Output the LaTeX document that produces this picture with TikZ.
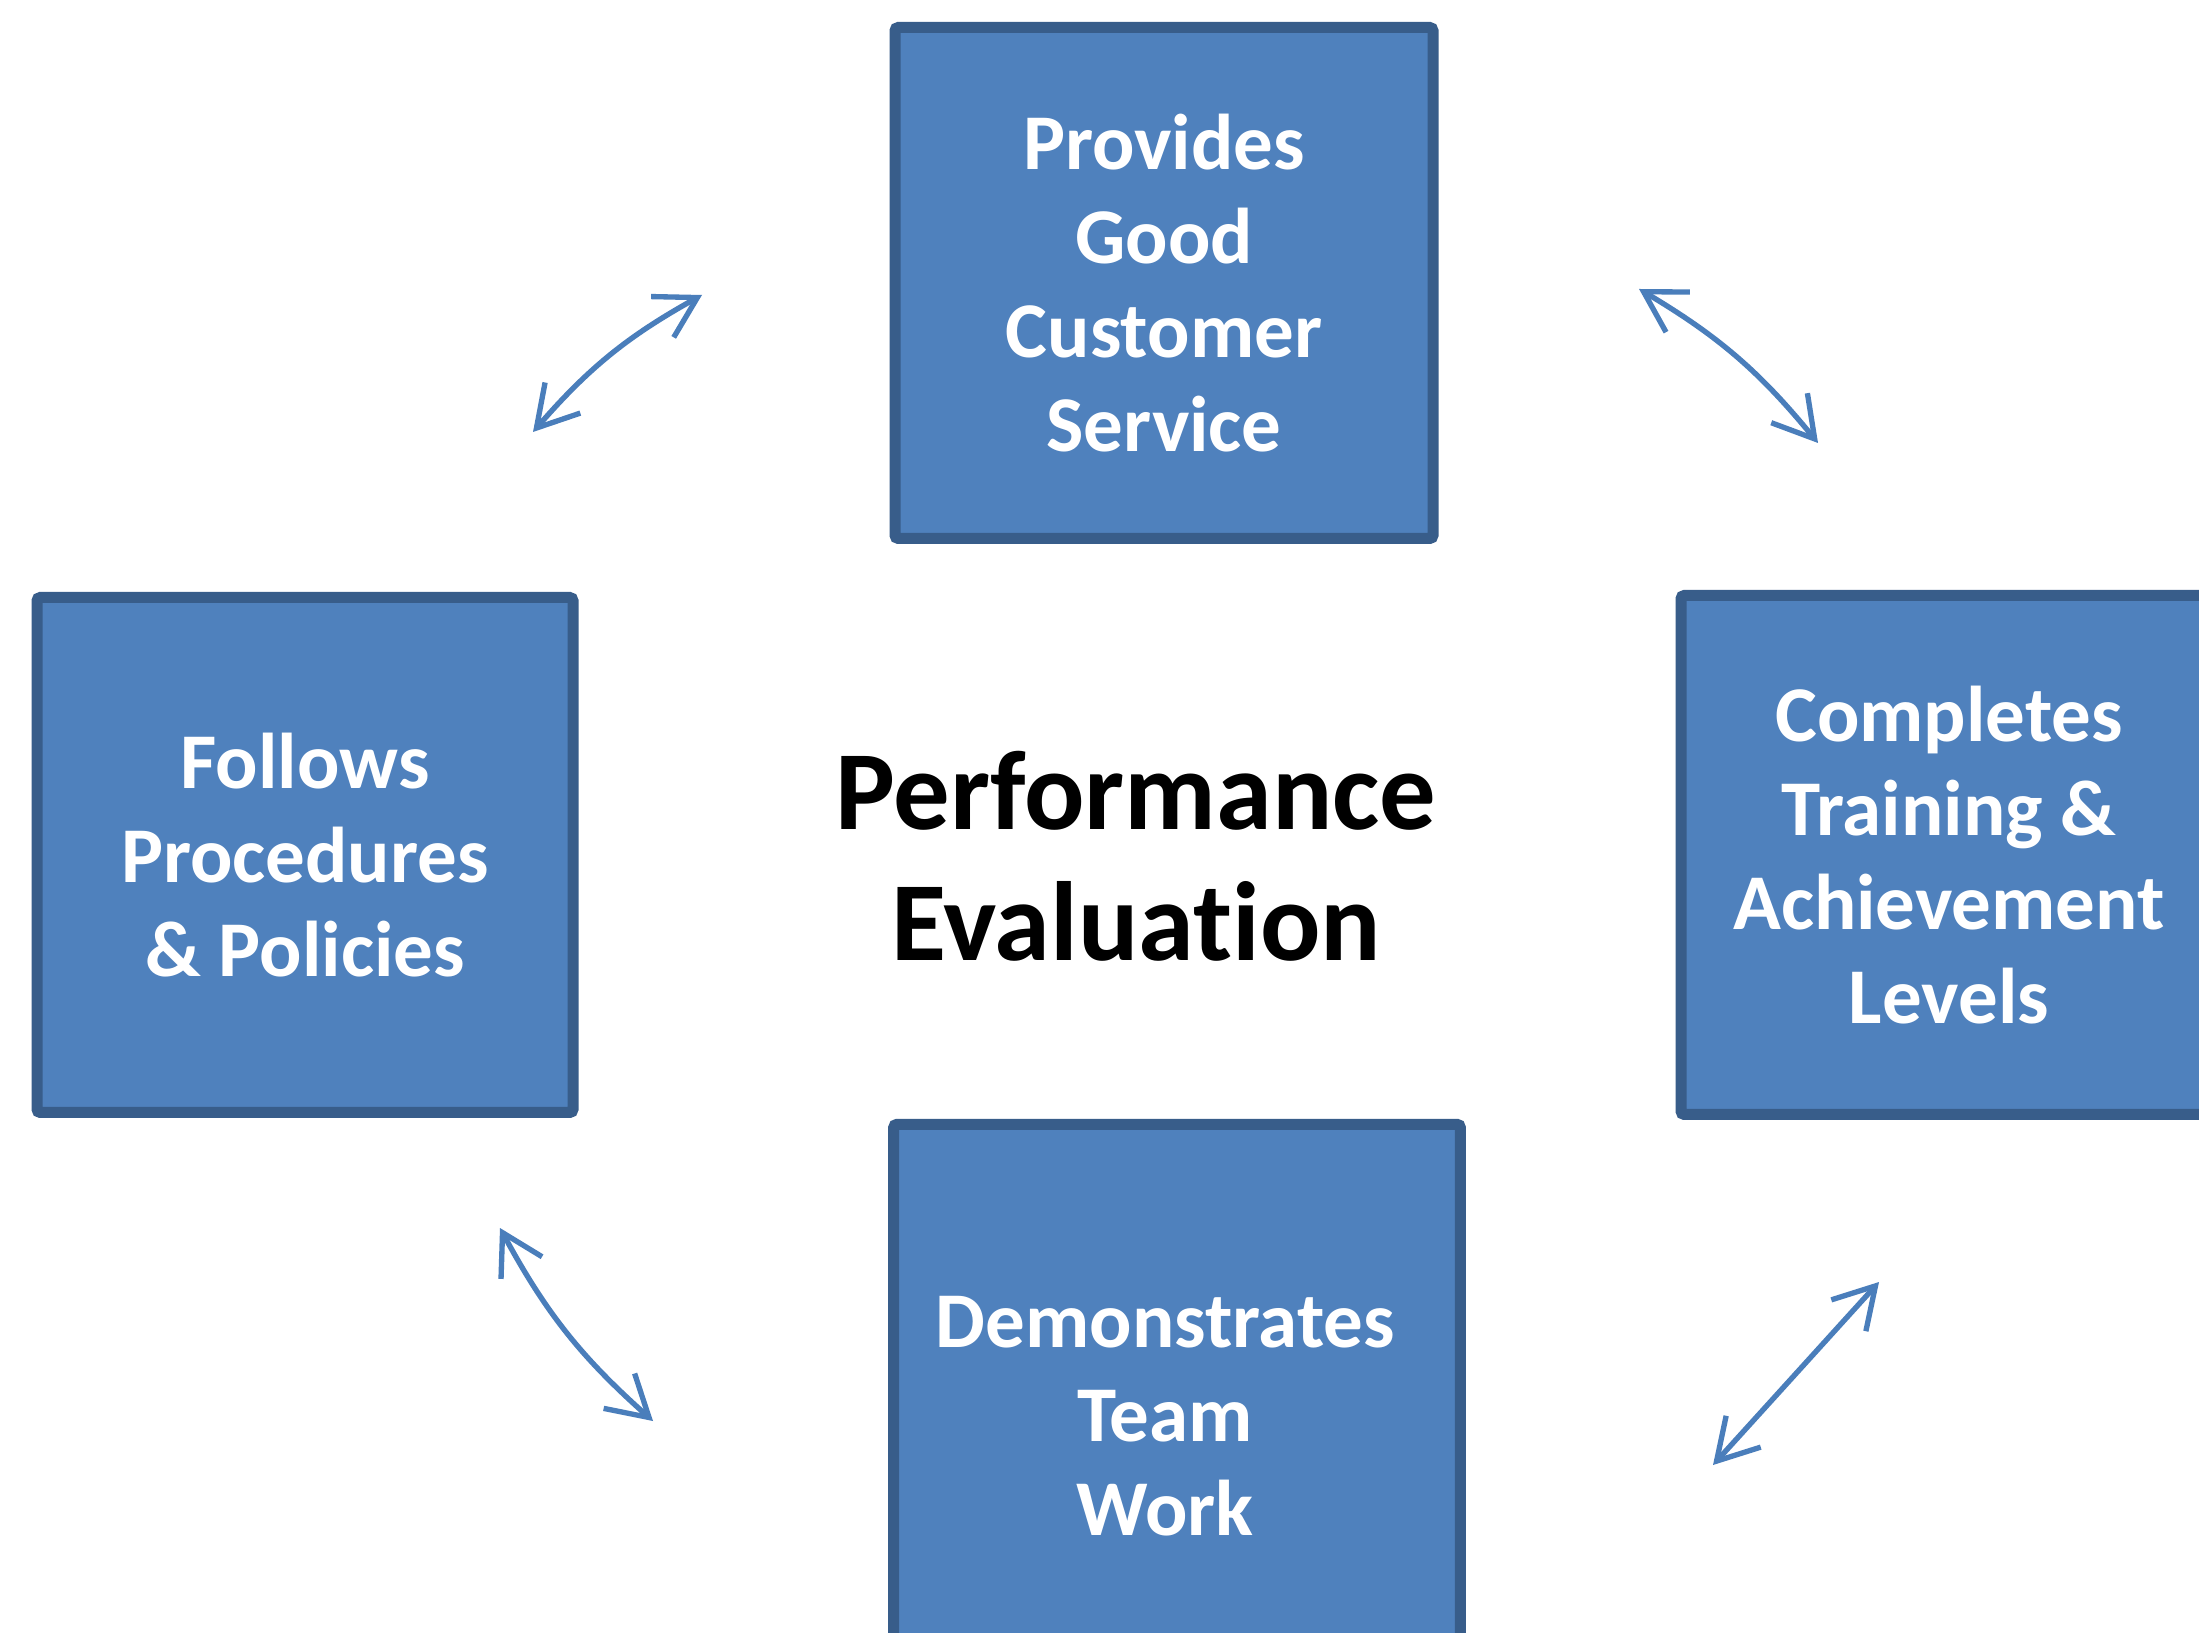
\documentclass[tikz,border=0pt]{standalone}
\usepackage{fontspec}
\setmainfont{Carlito}[Ligatures=NoCommon]
\usetikzlibrary{arrows.meta}
\definecolor{boxfill}{HTML}{4F81BD}
\definecolor{boxline}{HTML}{385D8A}
\definecolor{arrowc}{HTML}{4A7EBB}
\tikzset{
  box/.style={rectangle, draw=boxline, fill=boxfill, line width=3.3pt, rounded corners=1pt,
    text=white, align=center, font=\fontsize{23.7pt}{28.2pt}\selectfont\bfseries},
  link/.style={draw=arrowc, line width=1.6pt, line cap=round,
    {Straight Barb[length=12pt,width=14pt,line width=1.6pt]}-{Straight Barb[length=12pt,width=14pt,line width=1.6pt]}}
}
\begin{document}
\begin{tikzpicture}[x=0.3pt,y=-0.3pt]
\useasboundingbox (0,0) rectangle (2199,1633);
\clip (0,0) rectangle (2199,1633);
\fill[white] (0,0) rectangle (2199,1633);
\node[box, minimum width=161.4pt, minimum height=153.3pt] (top) at (1164,283) {Provides\\Good\\Customer\\Service};
\node[box, minimum width=160.8pt, minimum height=154.5pt] (left) at (305,855) {Follows\\Procedures\\\& Policies};
\node[box, minimum width=160.8pt, minimum height=155.7pt] (right) at (1949,855) {Completes\\Training \&\\Achievement\\Levels};
\node[box, minimum width=170pt, minimum height=175pt, inner sep=0pt, text width=160pt] (bottom) at (1177,1416) {\hspace*{-7pt}Demonstrates\\\hspace*{-7pt}Team\\\hspace*{-7pt}Work};
\node[align=center, font=\fontsize{33.8pt}{39.3pt}\selectfont\bfseries] (center) at (1136,856) {Performance\\Evaluation};
\coordinate (a1) at (533,432); \coordinate (b1) at (702,295);
\coordinate (a2) at (1639,289); \coordinate (b2) at (1818,443);
\coordinate (a3) at (500,1228); \coordinate (b3) at (653,1421);
\coordinate (a4) at (1713,1465); \coordinate (b4) at (1879,1282);
\draw[link] (a1) to[bend left=10] (b1);
\draw[link] (a2) to[bend left=10] (b2);
\draw[link] (a3) to[bend right=10] (b3);
\draw[link] (a4) -- (b4);
\end{tikzpicture}
\end{document}
